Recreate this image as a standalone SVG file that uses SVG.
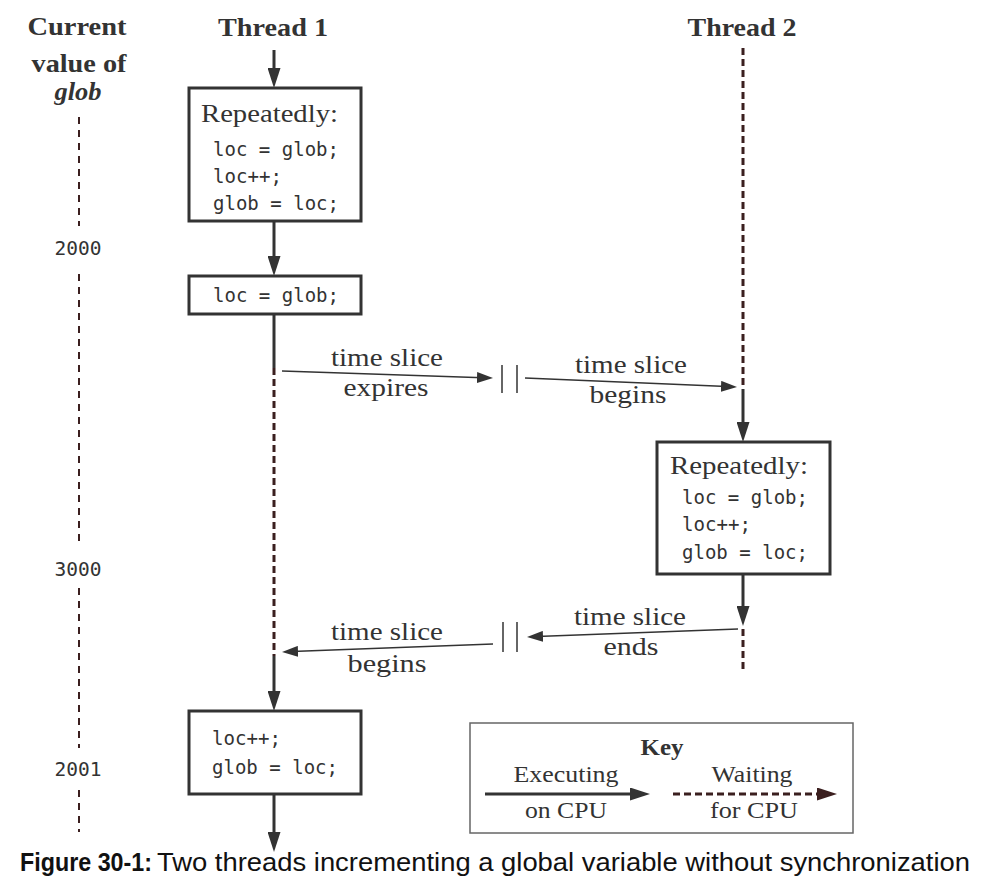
<svg xmlns="http://www.w3.org/2000/svg" width="985" height="887" viewBox="0 0 985 887">
<style>
.hd{font-family:"Liberation Serif",serif;font-weight:bold;font-size:24.5px;fill:#333;text-anchor:middle}
.sr{font-family:"Liberation Serif",serif;font-size:25.5px;fill:#333}
.lb{font-family:"Liberation Serif",serif;font-size:26px;fill:#333;text-anchor:middle}
.ky{font-family:"Liberation Serif",serif;font-size:23.5px;fill:#333;text-anchor:middle}
.mono{font-family:"DejaVu Sans Mono","Liberation Mono",monospace;font-size:20px;fill:#333}
.num{font-family:"DejaVu Sans Mono","Liberation Mono",monospace;font-size:19.5px;fill:#333;text-anchor:middle}
.box{fill:#fff;stroke:#333;stroke-width:3}
.exec{stroke:#333;stroke-width:3;fill:none}
.wait{stroke:#3b1f1f;stroke-width:3;fill:none;stroke-dasharray:7 4}
.thin{stroke:#333;stroke-width:1.5;fill:none}
.axis{stroke:#3b1f1f;stroke-width:2;fill:none;stroke-dasharray:7 6}
.cap{font-family:"Liberation Sans",sans-serif;font-size:26px;fill:#111}
</style>
<defs>
<marker id="ah" markerUnits="userSpaceOnUse" markerWidth="20" markerHeight="13" refX="8" refY="6.5" orient="auto">
<path d="M0,0 L20,6.5 L0,13 z" fill="#333"/>
</marker>
<marker id="ahw" markerUnits="userSpaceOnUse" markerWidth="20" markerHeight="13" refX="8" refY="6.5" orient="auto">
<path d="M0,0 L20,6.5 L0,13 z" fill="#3b1f1f"/>
</marker>
<marker id="ahs" markerUnits="userSpaceOnUse" markerWidth="16" markerHeight="11" refX="6" refY="5.5" orient="auto">
<path d="M0,0 L16,5.5 L0,11 z" fill="#333"/>
</marker>
</defs>

<g id="headers">
<text class="hd" x="77" y="35" textLength="99" lengthAdjust="spacingAndGlyphs">Current</text>
<text class="hd" x="79" y="72" textLength="95" lengthAdjust="spacingAndGlyphs">value of</text>
<text class="hd" x="78" y="100" font-style="italic" textLength="47" lengthAdjust="spacingAndGlyphs">glob</text>
<text class="hd" x="273" y="36" textLength="110" lengthAdjust="spacingAndGlyphs">Thread 1</text>
<text class="hd" x="742" y="36" textLength="109" lengthAdjust="spacingAndGlyphs">Thread 2</text>
</g>

<g id="glob-axis">
<line class="axis" x1="79" y1="117" x2="79" y2="226"/>
<text class="num" x="78" y="255">2000</text>
<line class="axis" x1="79" y1="274" x2="79" y2="546"/>
<text class="num" x="78" y="576">3000</text>
<line class="axis" x1="79" y1="588" x2="79" y2="748"/>
<text class="num" x="78" y="776">2001</text>
<line class="axis" x1="79" y1="790" x2="79" y2="832"/>
</g>

<g id="connectors">
<line class="exec" x1="274" y1="50" x2="274" y2="76" marker-end="url(#ah)"/>
<line class="exec" x1="274" y1="221" x2="274" y2="264" marker-end="url(#ah)"/>
<line class="exec" x1="274" y1="314" x2="274" y2="368"/>
<line class="wait" x1="274" y1="368" x2="274" y2="656"/>
<line class="exec" x1="274" y1="656" x2="274" y2="699" marker-end="url(#ah)"/>
<line class="exec" x1="274" y1="794" x2="274" y2="840" marker-end="url(#ah)"/>
<line class="wait" x1="743" y1="48" x2="743" y2="389"/>
<line class="exec" x1="743" y1="389" x2="743" y2="430" marker-end="url(#ah)"/>
<line class="exec" x1="743" y1="574" x2="743" y2="614" marker-end="url(#ah)"/>
<line class="wait" x1="743" y1="629" x2="743" y2="672"/>
<line class="thin" x1="282" y1="371" x2="483" y2="377.7" marker-end="url(#ahs)"/>
<line class="thin" x1="502" y1="365" x2="502" y2="393"/>
<line class="thin" x1="517" y1="365" x2="517" y2="393"/>
<line class="thin" x1="525" y1="378" x2="727" y2="386.6" marker-end="url(#ahs)"/>
<line class="thin" x1="738" y1="629" x2="537" y2="636.6" marker-end="url(#ahs)"/>
<line class="thin" x1="503" y1="622" x2="503" y2="652"/>
<line class="thin" x1="517" y1="622" x2="517" y2="652"/>
<line class="thin" x1="493" y1="644" x2="292" y2="651.6" marker-end="url(#ahs)"/>
<text class="lb" x="387" y="366" textLength="112" lengthAdjust="spacingAndGlyphs">time slice</text>
<text class="lb" x="386" y="396" textLength="85" lengthAdjust="spacingAndGlyphs">expires</text>
<text class="lb" x="631" y="373" textLength="112" lengthAdjust="spacingAndGlyphs">time slice</text>
<text class="lb" x="628" y="403" textLength="77" lengthAdjust="spacingAndGlyphs">begins</text>
<text class="lb" x="630" y="625" textLength="112" lengthAdjust="spacingAndGlyphs">time slice</text>
<text class="lb" x="631" y="655" textLength="55" lengthAdjust="spacingAndGlyphs">ends</text>
<text class="lb" x="387" y="640" textLength="112" lengthAdjust="spacingAndGlyphs">time slice</text>
<text class="lb" x="387" y="672" textLength="79" lengthAdjust="spacingAndGlyphs">begins</text>
</g>

<g id="t1-loop">
<rect class="box" x="189" y="88" width="172" height="133"/>
<text class="sr" x="201" y="122" textLength="137" lengthAdjust="spacingAndGlyphs">Repeatedly:</text>
<text class="mono" x="213" y="156" xml:space="preserve" textLength="126" lengthAdjust="spacingAndGlyphs">loc = glob;</text>
<text class="mono" x="213" y="183" textLength="69" lengthAdjust="spacingAndGlyphs">loc++;</text>
<text class="mono" x="213" y="210" xml:space="preserve" textLength="126" lengthAdjust="spacingAndGlyphs">glob = loc;</text>
</g>

<g id="t1-read">
<rect class="box" x="189" y="276" width="172" height="38"/>
<text class="mono" x="213" y="302" xml:space="preserve" textLength="126" lengthAdjust="spacingAndGlyphs">loc = glob;</text>
</g>

<g id="t2-loop">
<rect class="box" x="657" y="442" width="173" height="132"/>
<text class="sr" x="670" y="474" textLength="138" lengthAdjust="spacingAndGlyphs">Repeatedly:</text>
<text class="mono" x="682" y="504" xml:space="preserve" textLength="126" lengthAdjust="spacingAndGlyphs">loc = glob;</text>
<text class="mono" x="682" y="531" textLength="69" lengthAdjust="spacingAndGlyphs">loc++;</text>
<text class="mono" x="682" y="559" xml:space="preserve" textLength="126" lengthAdjust="spacingAndGlyphs">glob = loc;</text>
</g>

<g id="t1-write">
<rect class="box" x="189" y="711" width="172" height="83"/>
<text class="mono" x="212" y="745" textLength="69" lengthAdjust="spacingAndGlyphs">loc++;</text>
<text class="mono" x="212" y="774" xml:space="preserve" textLength="126" lengthAdjust="spacingAndGlyphs">glob = loc;</text>
</g>

<g id="key">
<rect x="470" y="723" width="383" height="110" fill="#fff" stroke="#666" stroke-width="1.5"/>
<text class="ky" x="662" y="755" font-weight="bold" textLength="43" lengthAdjust="spacingAndGlyphs">Key</text>
<text class="ky" x="566" y="782" textLength="105" lengthAdjust="spacingAndGlyphs">Executing</text>
<line class="exec" x1="485" y1="794" x2="638" y2="794" marker-end="url(#ah)"/>
<text class="ky" x="566" y="818" textLength="82" lengthAdjust="spacingAndGlyphs">on CPU</text>
<text class="ky" x="752" y="782" textLength="81" lengthAdjust="spacingAndGlyphs">Waiting</text>
<line class="wait" x1="673" y1="794" x2="825" y2="794" marker-end="url(#ahw)"/>
<text class="ky" x="754" y="818" textLength="88" lengthAdjust="spacingAndGlyphs">for CPU</text>
</g>

<g id="caption">
<text class="cap" x="20" y="871" font-weight="bold" textLength="132" lengthAdjust="spacingAndGlyphs">Figure 30-1:</text>
<text class="cap" x="157" y="871" textLength="813" lengthAdjust="spacingAndGlyphs">Two threads incrementing a global variable without synchronization</text>
</g>
</svg>
